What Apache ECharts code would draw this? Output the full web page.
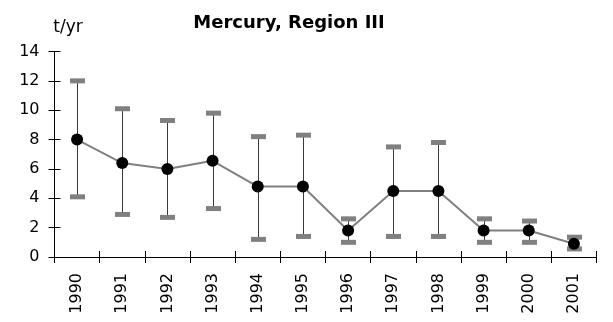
<!DOCTYPE html>
<html>
<head>
<meta charset="utf-8">
<script src="https://cdn.jsdelivr.net/npm/echarts@6/dist/echarts.min.js"></script>
<style>
  html, body { margin: 0; padding: 0; background: #fff; }
  #chart { width: 613px; height: 322px; }
</style>
</head>
<body>
<div id="chart"></div>
<script>
// Annual mercury load, Region III (t/yr), with uncertainty range
const years = ['1990', '1991', '1992', '1993', '1994', '1995', '1996', '1997', '1998', '1999', '2000', '2001'];
const estimate = [8.0, 6.4, 6.0, 6.55, 4.8, 4.8, 1.8, 4.5, 4.5, 1.8, 1.8, 0.9];
const upperBound = [12.0, 10.1, 9.3, 9.8, 8.2, 8.3, 2.6, 7.5, 7.8, 2.6, 2.45, 1.35];
const lowerBound = [4.1, 2.9, 2.7, 3.3, 1.2, 1.4, 1.0, 1.4, 1.4, 1.0, 1.0, 0.55];
const yMin = 0, yMax = 14, yStep = 2;

const FONT = 'DejaVu Sans';
const chart = echarts.init(document.getElementById('chart'), null, { renderer: 'canvas' });

const rangeData = years.map((y, i) => [i, lowerBound[i], upperBound[i]]);

function renderRange(params, api) {
  const idx = api.value(0);
  const lo = api.coord([idx, api.value(1)]);
  const hi = api.coord([idx, api.value(2)]);
  const capW = 15, capH = 5;
  const x = Math.round(lo[0]) + 0.5;
  return {
    type: 'group',
    children: [
      { type: 'line', shape: { x1: x, y1: hi[1], x2: x, y2: lo[1] },
        style: { stroke: '#3a3a3a', lineWidth: 1 } },
      { type: 'rect', shape: { x: x - capW / 2, y: hi[1] - capH / 2, width: capW, height: capH },
        style: { fill: '#808080' } },
      { type: 'rect', shape: { x: x - capW / 2, y: lo[1] - capH / 2, width: capW, height: capH },
        style: { fill: '#808080' } }
    ]
  };
}

const axisLine = { show: true, lineStyle: { color: '#000', width: 1 } };

chart.setOption({
  animation: false,
  backgroundColor: '#fff',
  title: [
    { text: 'Mercury, Region III', left: 284, top: 9, textAlign: 'center',
      textStyle: { fontFamily: FONT, fontWeight: 'bold', fontSize: 18, color: '#000' } },
    { text: 't/yr', left: 63, top: 14, textAlign: 'center',
      textStyle: { fontFamily: FONT, fontWeight: 'normal', fontSize: 17, color: '#000' } }
  ],
  grid: { left: 54.5, right: 16.5, top: 51.5, bottom: 65, containLabel: false },
  xAxis: [
    { type: 'category', data: years, position: 'bottom', boundaryGap: true,
      axisLine: axisLine,
      axisTick: { show: true, inside: false, length: 6, lineStyle: { color: '#000' } },
      axisLabel: { rotate: 90, margin: 16, fontFamily: FONT, fontSize: 16, color: '#000' },
      splitLine: { show: false } },
    { type: 'category', data: years, position: 'bottom', boundaryGap: true,
      axisLine: { show: false },
      axisTick: { show: true, inside: true, length: 6, lineStyle: { color: '#000' } },
      axisLabel: { show: false }, splitLine: { show: false } }
  ],
  yAxis: [
    { type: 'value', min: yMin, max: yMax, interval: yStep, position: 'left',
      axisLine: axisLine,
      axisTick: { show: true, inside: false, length: 6, lineStyle: { color: '#000' } },
      axisLabel: { margin: 15, fontFamily: FONT, fontSize: 16, color: '#000' },
      splitLine: { show: false } },
    { type: 'value', min: yMin, max: yMax, interval: yStep, position: 'left',
      axisLine: { show: false },
      axisTick: { show: true, inside: true, length: 6, lineStyle: { color: '#000' } },
      axisLabel: { show: false }, splitLine: { show: false } }
  ],
  series: [
    { type: 'custom', xAxisIndex: 0, yAxisIndex: 0, renderItem: renderRange,
      data: rangeData, z: 2, silent: true },
    { type: 'line', xAxisIndex: 0, yAxisIndex: 0, data: estimate, z: 3,
      symbol: 'circle', symbolSize: 12,
      lineStyle: { color: '#808080', width: 2 },
      itemStyle: { color: '#000' } }
  ]
});
</script>
</body>
</html>
